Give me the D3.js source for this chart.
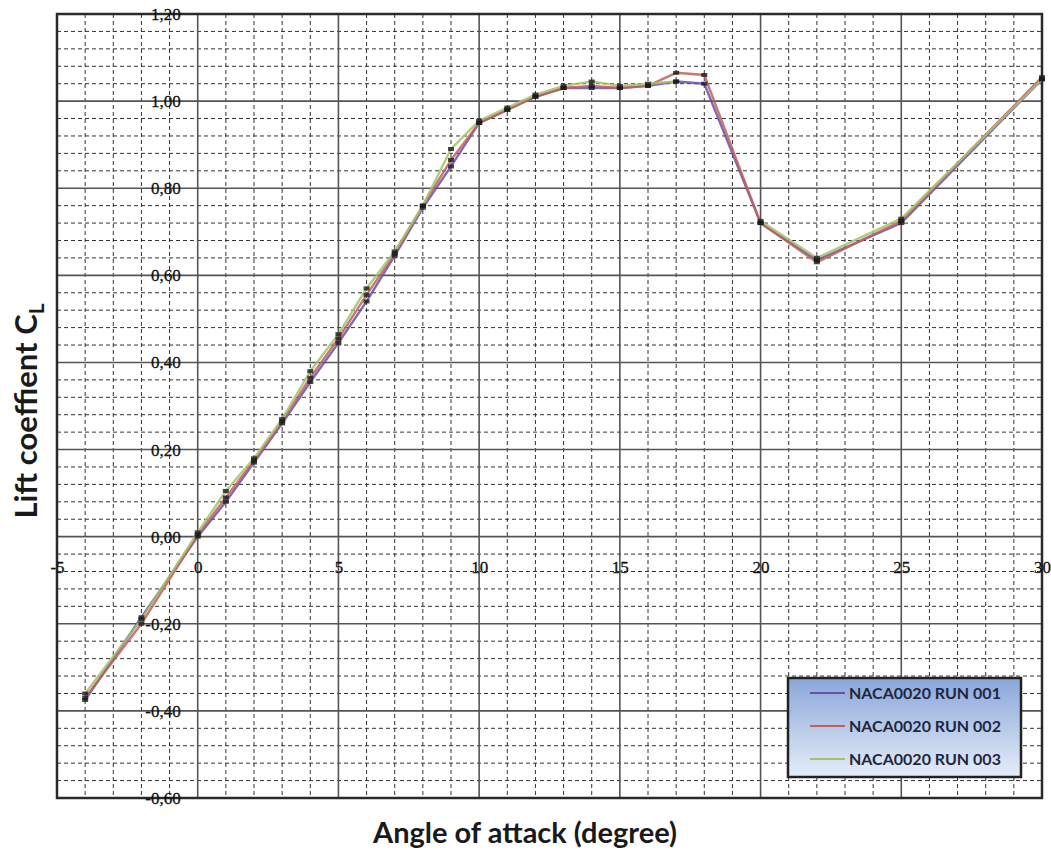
<!DOCTYPE html>
<html>
<head>
<meta charset="utf-8">
<script src="https://cdn.jsdelivr.net/npm/d3@7"></script>
<style>
  body { margin: 0; background: #fff; }
  svg { display: block; }
</style>
</head>
<body>
<div id="chart"></div>
<script>
// angle of attack (degree)
var angles = [-4, -2, 0, 1, 2, 3, 4, 5, 6, 7, 8, 9, 10, 11, 12, 13, 14, 15, 16, 17, 18, 20, 22, 25, 30];

// lift coefficient per run (run 003 has no reading at 18)
var run001 = [-0.375, -0.185, 0.000, 0.080, 0.170, 0.260, 0.355, 0.445, 0.540, 0.645, 0.755, 0.850, 0.950, 0.980, 1.010, 1.030, 1.030, 1.030, 1.035, 1.045, 1.040, 0.720, 0.635, 0.720, 1.050];
var run002 = [-0.370, -0.200, 0.005, 0.090, 0.175, 0.265, 0.365, 0.455, 0.555, 0.650, 0.760, 0.865, 0.950, 0.980, 1.010, 1.030, 1.035, 1.030, 1.035, 1.065, 1.060, 0.720, 0.630, 0.725, 1.055];
var run003 = [-0.360, -0.190, 0.010, 0.105, 0.180, 0.270, 0.380, 0.465, 0.570, 0.655, 0.760, 0.890, 0.955, 0.985, 1.015, 1.035, 1.045, 1.035, 1.040, 1.045, null, 0.725, 0.640, 0.730, 1.050];

var seriesNames = ["NACA0020 RUN 001", "NACA0020 RUN 002", "NACA0020 RUN 003"];
var seriesColors = ["#6a4fa8", "#c0605a", "#a3c26b"];

var xTicks = [-5, 0, 5, 10, 15, 20, 25, 30];
var yTicks = [-0.6, -0.4, -0.2, 0, 0.2, 0.4, 0.6, 0.8, 1.0, 1.2];

var W = 1051, H = 850;
var margin = { top: 14, right: 9, bottom: 52, left: 57 };
var w = W - margin.left - margin.right;
var h = H - margin.top - margin.bottom;

var svg = d3.select("#chart").append("svg").attr("width", W).attr("height", H);
var g = svg.append("g").attr("transform", "translate(" + margin.left + "," + margin.top + ")");

var x = d3.scaleLinear().domain([-5, 30]).range([0, w]);
var y = d3.scaleLinear().domain([-0.6, 1.2]).range([h, 0]);

g.append("rect").attr("width", w).attr("height", h).attr("fill", "#fff");

// minor grid: every degree and every 0.04
var minorX = d3.range(-5, 31, 1).filter(function (d) { return d % 5 !== 0; });
var minorY = d3.range(0, 46).map(function (i) { return -0.6 + i * 0.04; })
    .filter(function (d, i) { return i % 5 !== 0; });

g.selectAll("line.minor-x").data(minorX).enter().append("line")
    .attr("class", "minor-x")
    .attr("x1", function (d) { return x(d); }).attr("x2", function (d) { return x(d); })
    .attr("y1", 0).attr("y2", h)
    .attr("stroke", "#333").attr("stroke-width", 1).attr("stroke-dasharray", "4,3");

g.selectAll("line.minor-y").data(minorY).enter().append("line")
    .attr("class", "minor-y")
    .attr("x1", 0).attr("x2", w)
    .attr("y1", function (d) { return y(d); }).attr("y2", function (d) { return y(d); })
    .attr("stroke", "#333").attr("stroke-width", 1).attr("stroke-dasharray", "4,3");

// major grid
g.selectAll("line.major-x").data(xTicks).enter().append("line")
    .attr("class", "major-x")
    .attr("x1", function (d) { return x(d); }).attr("x2", function (d) { return x(d); })
    .attr("y1", 0).attr("y2", h)
    .attr("stroke", "#555").attr("stroke-width", 1.6);

g.selectAll("line.major-y").data(yTicks).enter().append("line")
    .attr("class", "major-y")
    .attr("x1", 0).attr("x2", w)
    .attr("y1", function (d) { return y(d); }).attr("y2", function (d) { return y(d); })
    .attr("stroke", "#555").attr("stroke-width", 1.6);

// plot border
g.append("rect").attr("width", w).attr("height", h)
    .attr("fill", "none").attr("stroke", "#2a2a2a").attr("stroke-width", 2.5);

// axes cross at the origin
var fmt = function (d) { return d3.format(".2f")(d).replace(".", ",").replace("−", "-"); };

var yAxis = g.append("g").attr("transform", "translate(" + x(0) + ",0)")
    .call(d3.axisLeft(y).tickValues(yTicks).tickSize(0).tickPadding(17).tickFormat(fmt));
var xAxis = g.append("g").attr("transform", "translate(0," + y(0) + ")")
    .call(d3.axisBottom(x).tickValues(xTicks).tickSize(0).tickPadding(24).tickFormat(function (d) { return String(d); }));

[yAxis, xAxis].forEach(function (a) {
    a.select(".domain").remove();
    a.selectAll("text")
        .attr("font-family", "'Liberation Serif', 'DejaVu Serif', serif")
        .attr("font-size", "17px")
        .attr("fill", "#111")
        .attr("stroke", "#111").attr("stroke-width", 0.3);
});

// series
var runs = [run001, run002, run003];
var line = d3.line()
    .defined(function (d) { return d[1] !== null; })
    .x(function (d) { return x(d[0]); })
    .y(function (d) { return y(d[1]); });

runs.forEach(function (vals, k) {
    var pts = angles.map(function (a, i) { return [a, vals[i]]; });
    g.append("path").datum(pts)
        .attr("fill", "none")
        .attr("stroke", seriesColors[k])
        .attr("stroke-width", 2.4)
        .attr("stroke-opacity", 0.85)
        .attr("d", line);
});

runs.forEach(function (vals, k) {
    var pts = angles.map(function (a, i) { return [a, vals[i]]; })
        .filter(function (d) { return d[1] !== null; });
    g.selectAll("rect.mk" + k).data(pts).enter().append("rect")
        .attr("class", "mk" + k)
        .attr("x", function (d) { return x(d[0]) - 3; })
        .attr("y", function (d) { return y(d[1]) - 2; })
        .attr("width", 6).attr("height", 4)
        .attr("fill", "#1a1a1a").attr("fill-opacity", 0.8);
});

// legend
var defs = svg.append("defs");
var grad = defs.append("linearGradient").attr("id", "legGrad")
    .attr("x1", 0).attr("y1", 0).attr("x2", 0).attr("y2", 1);
grad.append("stop").attr("offset", "0%").attr("stop-color", "#8aa6da");
grad.append("stop").attr("offset", "100%").attr("stop-color", "#e6edf8");

var leg = svg.append("g").attr("transform", "translate(788,678)");
leg.append("rect").attr("width", 233).attr("height", 99)
    .attr("fill", "url(#legGrad)").attr("stroke", "#222").attr("stroke-width", 2.5);

var items = leg.selectAll("g.item").data(seriesNames).enter().append("g")
    .attr("class", "item")
    .attr("transform", function (d, i) { return "translate(0," + (15 + i * 33) + ")"; });
items.append("line").attr("x1", 22).attr("x2", 57).attr("y1", 0).attr("y2", 0)
    .attr("stroke", function (d, i) { return seriesColors[i]; }).attr("stroke-width", 2);
items.append("text").attr("x", 61).attr("y", 0).attr("dy", "0.35em")
    .attr("font-family", "Lato, 'Open Sans', sans-serif")
    .attr("font-weight", "bold").attr("font-size", "16px").attr("fill", "#1e2740")
    .text(function (d) { return d; });

// axis titles
svg.append("text")
    .attr("x", 525).attr("y", 843)
    .attr("text-anchor", "middle")
    .attr("font-family", "Lato, 'Open Sans', sans-serif")
    .attr("font-weight", "bold").attr("font-size", "29px").attr("fill", "#1a1a1a")
    .text("Angle of attack (degree)");

var yt = svg.append("text")
    .attr("transform", "translate(37,411)rotate(-90)")
    .attr("text-anchor", "middle")
    .attr("font-family", "Lato, 'Open Sans', sans-serif")
    .attr("font-weight", "bold").attr("font-size", "31px").attr("fill", "#1a1a1a");
yt.append("tspan").text("Lift coeffient C");
yt.append("tspan").attr("dy", 7).attr("font-size", "21px").text("L");
</script>
</body>
</html>
